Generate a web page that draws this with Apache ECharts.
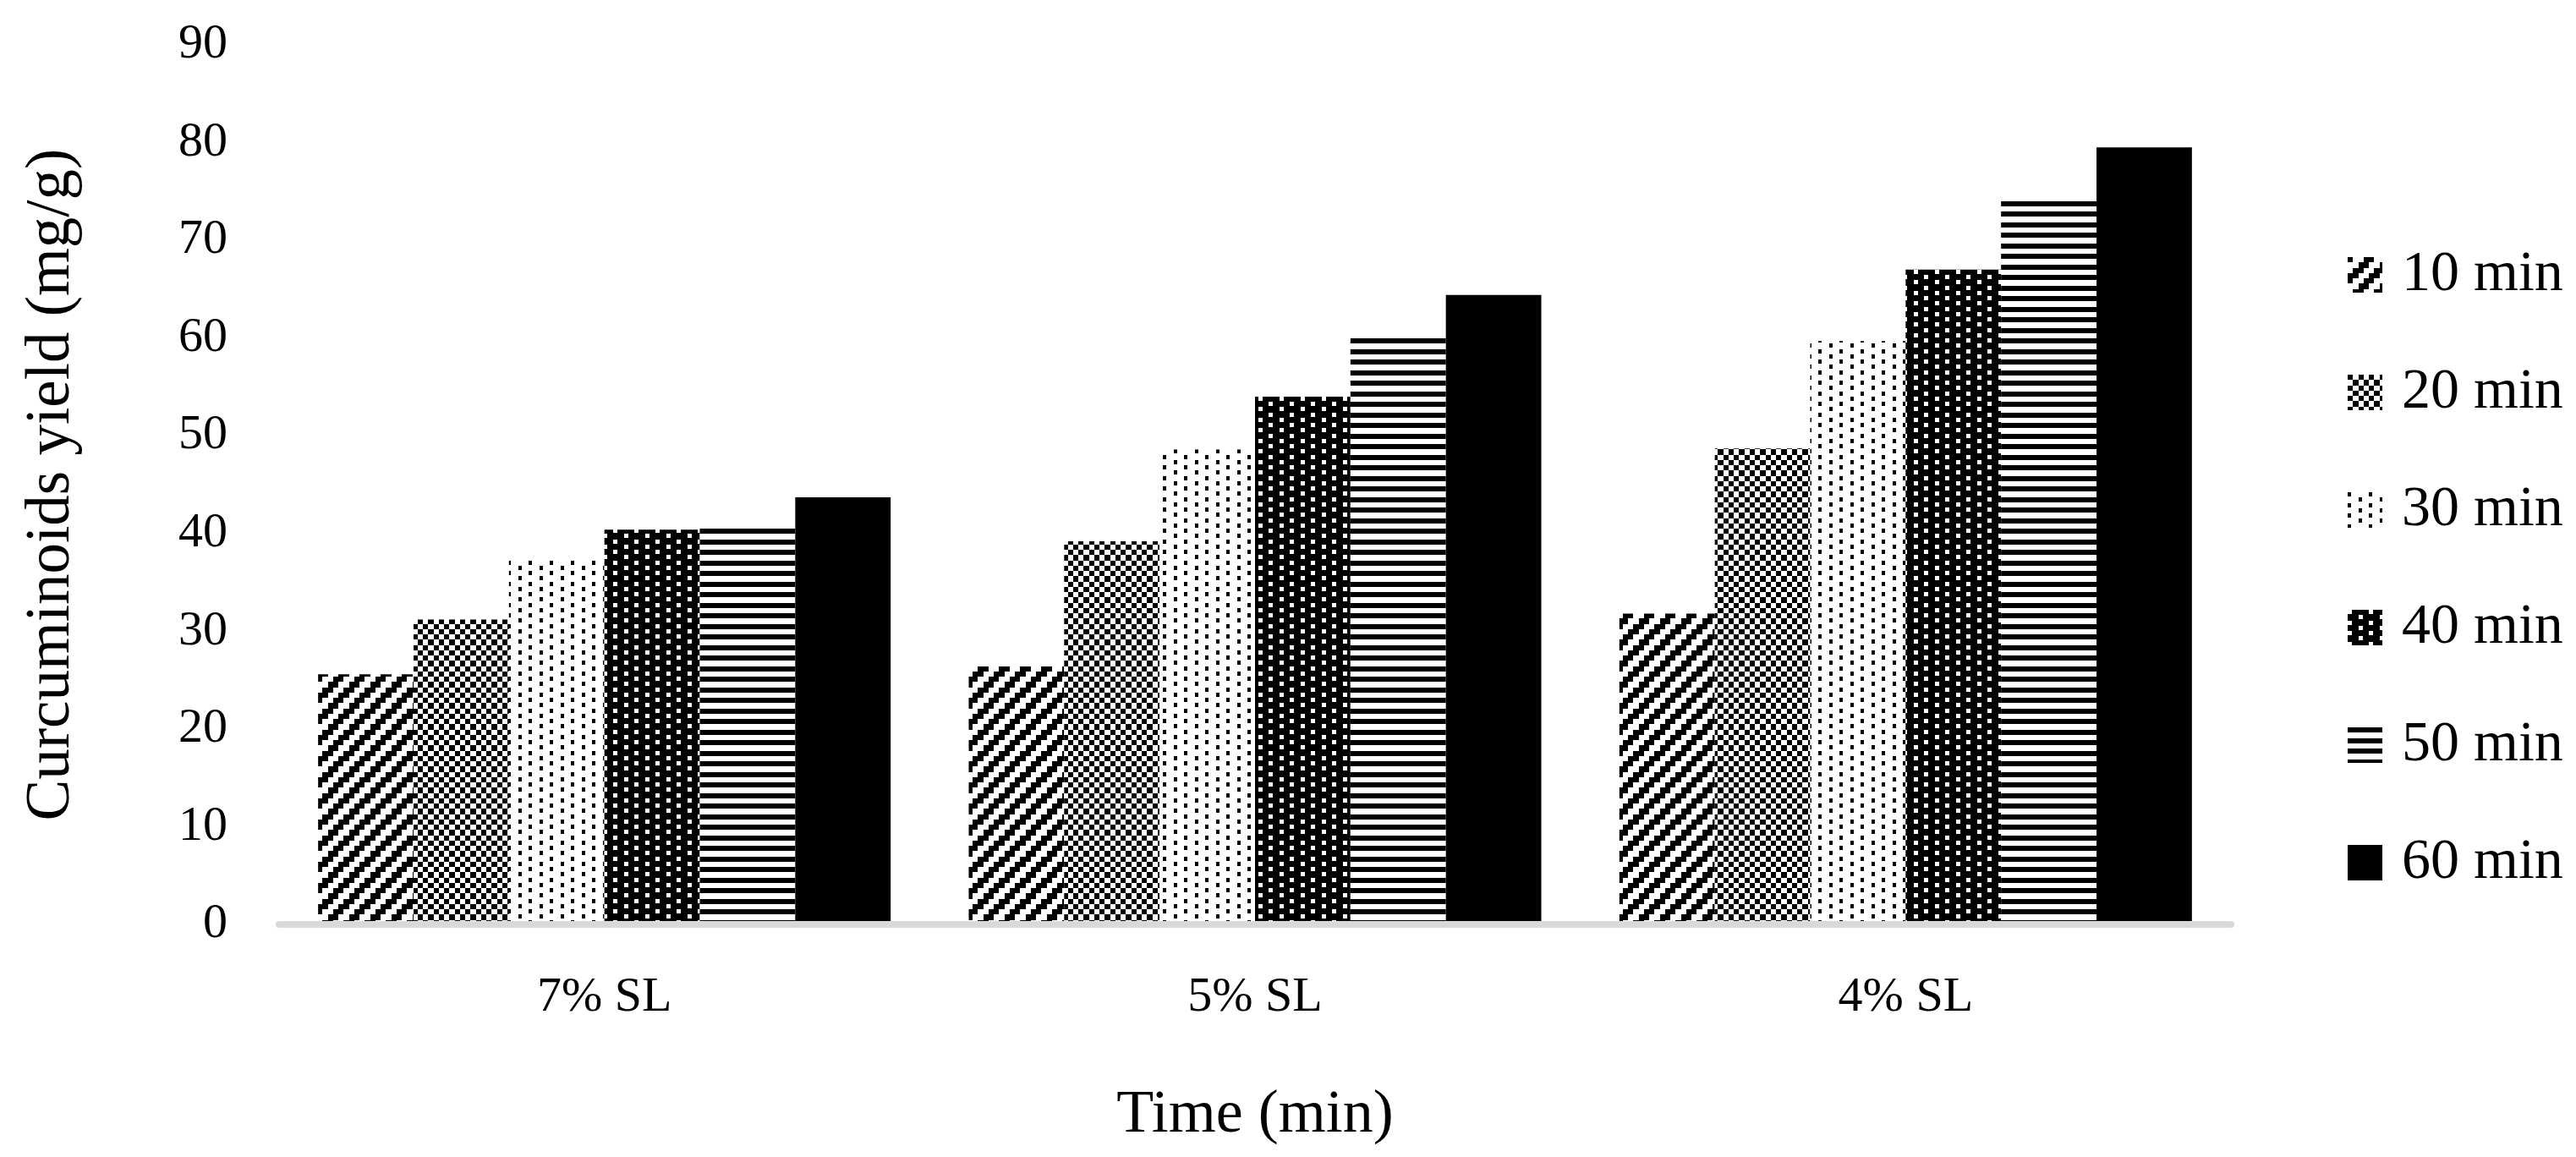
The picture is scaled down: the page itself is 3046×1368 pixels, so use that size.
<!DOCTYPE html>
<html><head><meta charset="utf-8">
<script src="https://cdn.jsdelivr.net/npm/echarts@6/dist/echarts.min.js"></script>
<style>html,body{margin:0;padding:0;background:#fff}#c{width:3046px;height:1368px}</style>
</head><body><div id="c"></div>
<script>
// ---- data ----
const categories = ['7% SL', '5% SL', '4% SL'];
const seriesNames = ['10 min', '20 min', '30 min', '40 min', '50 min', '60 min'];
const yield10 = [25.6, 26.4, 31.8];
const yield20 = [31.2, 39.2, 48.7];
const yield30 = [37.3, 48.6, 59.7];
const yield40 = [40.4, 54.0, 67.0];
const yield50 = [40.6, 60.1, 74.1];
const yield60 = [43.7, 64.4, 79.5];
const yMin = 0, yMax = 90, yInterval = 10;
const xTitle = 'Time (min)';
const yTitle = 'Curcuminoids yield (mg/g)';

// ---- fill patterns (black & white hatches) ----
const E = [0, 6, 13, 19, 25];
function tile(fn) {
  const c = document.createElement('canvas');
  c.width = 25; c.height = 25;
  const x = c.getContext('2d');
  x.fillStyle = '#fff'; x.fillRect(0, 0, 25, 25);
  x.fillStyle = '#000';
  fn(x);
  return { image: c, repeat: 'repeat' };
}
function cell(x, c, r) { x.fillRect(E[c], E[r], E[c + 1] - E[c], E[r + 1] - E[r]); }
const patterns = [
  tile(x => { for (let r = 0; r < 4; r++) { cell(x, (3 - r + 4) % 4, r); cell(x, (4 - r) % 4, r); } }),
  tile(x => { for (let r = 0; r < 4; r++) for (let c = 0; c < 4; c++) if ((r + c) % 2 === 0) cell(x, c, r); }),
  tile(x => { for (let r = 0; r < 4; r++) x.fillRect(r % 2 === 0 ? 0 : 13, E[r], 4, 5); }),
  tile(x => { x.fillRect(0, 0, 25, 25); x.fillStyle = '#fff'; for (let r = 0; r < 4; r++) x.fillRect(r % 2 === 0 ? 0 : 13, E[r], 5, 5); }),
  tile(x => { for (let c = 0; c < 4; c++) { cell(x, c, 0); cell(x, c, 2); } }),
  '#000'
];
const values = [yield10, yield20, yield30, yield40, yield50, yield60];

const FONT = '"Liberation Serif", "Times New Roman", serif';
const chart = echarts.init(document.getElementById('c'), null, { renderer: 'canvas' });
chart.setOption({
  animation: false,
  backgroundColor: '#fff',
  grid: { left: 330, right: 408, top: 53, bottom: 275, containLabel: false },
  legend: {
    orient: 'vertical', left: 2771, top: 286,
    itemWidth: 41, itemHeight: 42, itemGap: 71, icon: 'rect',
    data: seriesNames,
    textStyle: { fontFamily: FONT, fontSize: 68, color: '#000', padding: [0, 0, 0, 18] }
  },
  xAxis: {
    type: 'category', data: categories, z: 5,
    axisLine: { lineStyle: { color: '#d9d9d9', width: 8 } },
    axisTick: { show: false },
    axisLabel: { fontFamily: FONT, fontSize: 58, color: '#000', margin: 58 },
    name: xTitle, nameLocation: 'middle', nameGap: 190,
    nameTextStyle: { fontFamily: FONT, fontSize: 72, color: '#000' }
  },
  yAxis: {
    type: 'value', min: yMin, max: yMax, interval: yInterval,
    axisLine: { show: false }, axisTick: { show: false }, splitLine: { show: false },
    axisLabel: { fontFamily: FONT, fontSize: 58, color: '#000', margin: 61 },
    name: yTitle, nameLocation: 'middle', nameGap: 232, nameRotate: 90,
    nameTextStyle: { fontFamily: FONT, fontSize: 73, color: '#000' }
  },
  series: seriesNames.map((n, i) => ({
    name: n, type: 'bar', data: values[i],
    barGap: '0%', barCategoryGap: '12%',
    itemStyle: { color: patterns[i] }
  }))
});
</script></body></html>
